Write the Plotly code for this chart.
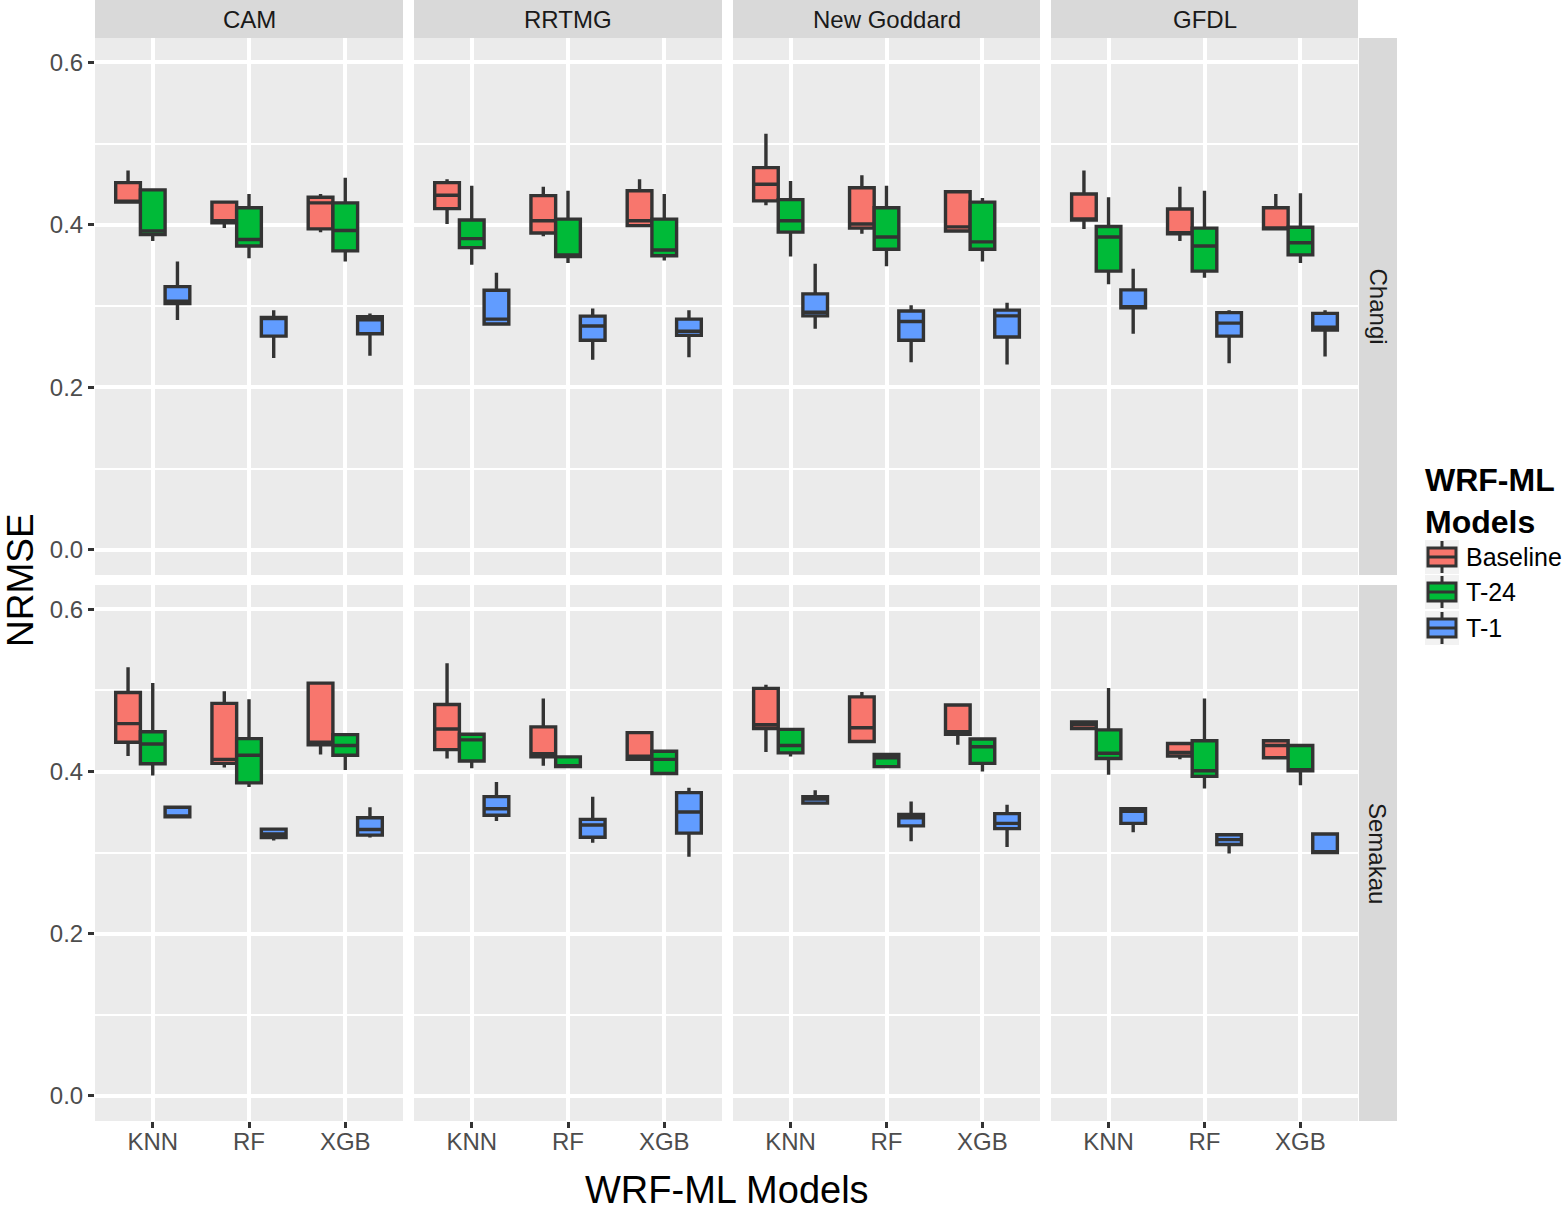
import plotly.graph_objects as go

categories = ["KNN", "RF", "XGB"]
schemes = ["CAM", "RRTMG", "New Goddard", "GFDL"]
stations = ["Changi", "Semakau"]
series_names = ["Baseline", "T-24", "T-1"]
series_colors = ["#F8766D", "#00BA38", "#619CFF"]
y_tick_vals = [0.0, 0.2, 0.4, 0.6]
y_tick_text = ["0.0", "0.2", "0.4", "0.6"]

# each box: [min, q1, median, q3, max] for KNN, RF, XGB
changi_cam = {
    "Baseline": [[0.427, 0.428, 0.429, 0.452, 0.467], [0.396, 0.4025, 0.405, 0.428, 0.428], [0.391, 0.395, 0.427, 0.434, 0.438]],
    "T-24": [[0.380, 0.388, 0.3925, 0.443, 0.443], [0.359, 0.374, 0.382, 0.421, 0.438], [0.355, 0.368, 0.393, 0.427, 0.458]],
    "T-1": [[0.283, 0.303, 0.306, 0.324, 0.355], [0.236, 0.263, 0.285, 0.286, 0.295], [0.239, 0.266, 0.283, 0.287, 0.291]],
}
changi_rrtmg = {
    "Baseline": [[0.401, 0.420, 0.4365, 0.452, 0.456], [0.386, 0.390, 0.405, 0.436, 0.447], [0.398, 0.399, 0.405, 0.442, 0.456]],
    "T-24": [[0.351, 0.372, 0.383, 0.406, 0.448], [0.353, 0.361, 0.363, 0.407, 0.442], [0.356, 0.362, 0.369, 0.407, 0.438]],
    "T-1": [[0.276, 0.278, 0.284, 0.3195, 0.341], [0.234, 0.258, 0.2755, 0.2876, 0.297], [0.237, 0.264, 0.269, 0.284, 0.295]],
}
changi_goddard = {
    "Baseline": [[0.424, 0.4295, 0.450, 0.4705, 0.512], [0.389, 0.396, 0.401, 0.4456, 0.461], [0.392, 0.3925, 0.3975, 0.4407, 0.441]],
    "T-24": [[0.361, 0.391, 0.405, 0.431, 0.454], [0.349, 0.370, 0.385, 0.421, 0.448], [0.355, 0.370, 0.379, 0.428, 0.433]],
    "T-1": [[0.272, 0.288, 0.2925, 0.315, 0.352], [0.231, 0.258, 0.281, 0.294, 0.301], [0.228, 0.262, 0.288, 0.295, 0.304]],
}
changi_gfdl = {
    "Baseline": [[0.395, 0.406, 0.4065, 0.438, 0.467], [0.380, 0.389, 0.390, 0.4195, 0.447], [0.395, 0.395, 0.396, 0.421, 0.438]],
    "T-24": [[0.327, 0.343, 0.385, 0.398, 0.434], [0.335, 0.343, 0.374, 0.396, 0.442], [0.353, 0.363, 0.378, 0.397, 0.439]],
    "T-1": [[0.266, 0.298, 0.2985, 0.320, 0.346], [0.2295, 0.263, 0.279, 0.292, 0.295], [0.238, 0.2705, 0.274, 0.291, 0.295]],
}
semakau_cam = {
    "Baseline": [[0.419, 0.436, 0.459, 0.4975, 0.5285], [0.405, 0.410, 0.415, 0.484, 0.499], [0.421, 0.433, 0.436, 0.509, 0.509]],
    "T-24": [[0.395, 0.4095, 0.434, 0.449, 0.509], [0.381, 0.386, 0.420, 0.4405, 0.489], [0.402, 0.420, 0.432, 0.4455, 0.4455]],
    "T-1": [[0.344, 0.344, 0.345, 0.356, 0.356], [0.315, 0.3186, 0.323, 0.329, 0.329], [0.3186, 0.3215, 0.3285, 0.343, 0.356]],
}
semakau_rrtmg = {
    "Baseline": [[0.416, 0.427, 0.4525, 0.4826, 0.5335], [0.407, 0.418, 0.422, 0.455, 0.490], [0.415, 0.415, 0.419, 0.448, 0.448]],
    "T-24": [[0.404, 0.413, 0.439, 0.446, 0.446], [0.406, 0.406, 0.407, 0.418, 0.418], [0.3975, 0.3975, 0.415, 0.425, 0.425]],
    "T-1": [[0.339, 0.346, 0.354, 0.369, 0.387], [0.312, 0.319, 0.334, 0.341, 0.369], [0.295, 0.324, 0.350, 0.374, 0.380]],
}
semakau_goddard = {
    "Baseline": [[0.424, 0.453, 0.4576, 0.5025, 0.507], [0.437, 0.437, 0.454, 0.492, 0.498], [0.433, 0.446, 0.449, 0.482, 0.482]],
    "T-24": [[0.4185, 0.423, 0.432, 0.452, 0.452], [0.406, 0.406, 0.417, 0.421, 0.421], [0.400, 0.410, 0.4305, 0.440, 0.440]],
    "T-1": [[0.361, 0.361, 0.366, 0.369, 0.377], [0.314, 0.333, 0.343, 0.347, 0.363], [0.307, 0.3296, 0.336, 0.348, 0.359]],
}
semakau_gfdl = {
    "Baseline": [[0.453, 0.453, 0.458, 0.461, 0.461], [0.415, 0.419, 0.4235, 0.4346, 0.4346], [0.417, 0.417, 0.432, 0.438, 0.438]],
    "T-24": [[0.396, 0.416, 0.4226, 0.4514, 0.503], [0.379, 0.394, 0.401, 0.438, 0.490], [0.383, 0.401, 0.4015, 0.432, 0.432]],
    "T-1": [[0.325, 0.336, 0.351, 0.354, 0.354], [0.299, 0.310, 0.316, 0.322, 0.322], [0.300, 0.300, 0.301, 0.323, 0.323]],
}

panels = [
    [changi_cam, changi_rrtmg, changi_goddard, changi_gfdl],
    [semakau_cam, semakau_rrtmg, semakau_goddard, semakau_gfdl],
]

W, H = 1567, 1216
FONT = "Arial, 'Liberation Sans', Helvetica, sans-serif"
col_px = [(95, 403), (414, 722), (733, 1040), (1051, 1358)]
row_px = [(38, 575), (585, 1121)]
LINE_W = 3.4


def px_x(v):
    return v / W


def px_y(v):
    return 1 - v / H


fig = go.Figure()
layout_axes = {}
for r in range(2):
    for c in range(4):
        p = r * 4 + c
        xa = "x" if p == 0 else f"x{p + 1}"
        ya = "y" if p == 0 else f"y{p + 1}"
        data = panels[r][c]
        for si, s in enumerate(series_names):
            boxes = data[s]
            fig.add_trace(go.Box(
                x=categories,
                lowerfence=[b[0] for b in boxes],
                q1=[b[1] for b in boxes],
                median=[b[2] for b in boxes],
                q3=[b[3] for b in boxes],
                upperfence=[b[4] for b in boxes],
                name=s,
                legendgroup=s,
                offsetgroup=s,
                alignmentgroup=f"panel{p}",
                showlegend=False,
                fillcolor=series_colors[si],
                line=dict(color="#333333", width=LINE_W),
                whiskerwidth=0,
                boxpoints=False,
                xaxis=xa, yaxis=ya,
                hoverinfo="skip",
            ))
        xkey = "xaxis" if p == 0 else f"xaxis{p + 1}"
        ykey = "yaxis" if p == 0 else f"yaxis{p + 1}"
        layout_axes[xkey] = dict(
            domain=[px_x(col_px[c][0]), px_x(col_px[c][1])],
            anchor=ya,
            type="category",
            categoryorder="array",
            categoryarray=categories,
            range=[-0.6, 2.6],
            showgrid=True, gridcolor="white", gridwidth=3.5,
            showline=False, zeroline=False,
            showticklabels=(r == 1),
            ticks="outside" if r == 1 else "",
            ticklen=6, tickwidth=3, tickcolor="#333333",
            ticklabelstandoff=-7,
            tickfont=dict(family=FONT, size=24, color="#4D4D4D"),
            fixedrange=True,
        )
        layout_axes[ykey] = dict(
            domain=[px_y(row_px[r][1]), px_y(row_px[r][0])],
            anchor=xa,
            range=[-0.031, 0.630],
            tickvals=y_tick_vals,
            ticktext=y_tick_text,
            showgrid=True, gridcolor="white", gridwidth=3.5,
            minor=dict(tickvals=[0.1, 0.3, 0.5], showgrid=True, gridcolor="white", gridwidth=1.8, ticks=""),
            showline=False, zeroline=False,
            showticklabels=(c == 0),
            ticks="outside" if c == 0 else "",
            ticklen=6, tickwidth=3, tickcolor="#333333",
            tickfont=dict(family=FONT, size=24, color="#4D4D4D"),
            fixedrange=True,
        )

shapes = []
annotations = []
for c, name in enumerate(schemes):
    shapes.append(dict(type="rect", xref="paper", yref="paper",
                       x0=px_x(col_px[c][0]), x1=px_x(col_px[c][1]),
                       y0=px_y(38), y1=px_y(0), fillcolor="#D9D9D9", line=dict(width=0), layer="below"))
    annotations.append(dict(x=px_x((col_px[c][0] + col_px[c][1]) / 2), y=px_y(19), xref="paper", yref="paper",
                            text=name, showarrow=False, xanchor="center", yanchor="middle",
                            font=dict(family=FONT, size=24, color="#1A1A1A")))
for r, name in enumerate(stations):
    shapes.append(dict(type="rect", xref="paper", yref="paper",
                       x0=px_x(1359), x1=px_x(1397),
                       y0=px_y(row_px[r][1]), y1=px_y(row_px[r][0]), fillcolor="#D9D9D9", line=dict(width=0), layer="below"))
    annotations.append(dict(x=px_x(1378), y=px_y((row_px[r][0] + row_px[r][1]) / 2), xref="paper", yref="paper",
                            text=name, showarrow=False, xanchor="center", yanchor="middle", textangle=90,
                            font=dict(family=FONT, size=24, color="#1A1A1A")))

annotations.append(dict(x=px_x(727), y=px_y(1190), xref="paper", yref="paper", text="WRF-ML Models",
                        showarrow=False, xanchor="center", yanchor="middle",
                        font=dict(family=FONT, size=38, color="black")))
annotations.append(dict(x=px_x(20), y=px_y(580), xref="paper", yref="paper", text="NRMSE",
                        showarrow=False, xanchor="center", yanchor="middle", textangle=-90,
                        font=dict(family=FONT, size=37, color="black")))

# legend (ggplot-style keys)
annotations.append(dict(x=px_x(1423), y=px_y(460), xref="paper", yref="paper",
                        text="<b>WRF-ML<br>Models</b>", showarrow=False, xanchor="left", yanchor="top", align="left",
                        font=dict(family=FONT, size=32, color="black")))
key_centers = [557, 592, 628]
for si, s in enumerate(series_names):
    yc = key_centers[si]
    shapes.append(dict(type="rect", xref="paper", yref="paper",
                       x0=px_x(1425), x1=px_x(1459), y0=px_y(yc + 17), y1=px_y(yc - 17),
                       fillcolor="#F2F2F2", line=dict(width=0)))
    shapes.append(dict(type="line", xref="paper", yref="paper",
                       x0=px_x(1442), x1=px_x(1442), y0=px_y(yc + 16), y1=px_y(yc - 16),
                       line=dict(color="#333333", width=3)))
    shapes.append(dict(type="rect", xref="paper", yref="paper",
                       x0=px_x(1428), x1=px_x(1456), y0=px_y(yc + 9), y1=px_y(yc - 9),
                       fillcolor=series_colors[si], line=dict(color="#333333", width=3)))
    shapes.append(dict(type="line", xref="paper", yref="paper",
                       x0=px_x(1428), x1=px_x(1456), y0=px_y(yc), y1=px_y(yc),
                       line=dict(color="#333333", width=3)))
    annotations.append(dict(x=px_x(1464), y=px_y(yc), xref="paper", yref="paper", text=s,
                            showarrow=False, xanchor="left", yanchor="middle",
                            font=dict(family=FONT, size=25, color="black")))

fig.update_layout(
    width=W, height=H,
    margin=dict(l=0, r=0, t=0, b=0),
    paper_bgcolor="white",
    plot_bgcolor="#EBEBEB",
    boxmode="group",
    boxgap=0.23,
    boxgroupgap=0,
    showlegend=False,
    shapes=shapes,
    annotations=annotations,
    font=dict(family=FONT, color="black"),
    **layout_axes,
)

fig.write_html("out.html", config={"displayModeBar": False},
               post_script="document.body.style.margin='0px';")
